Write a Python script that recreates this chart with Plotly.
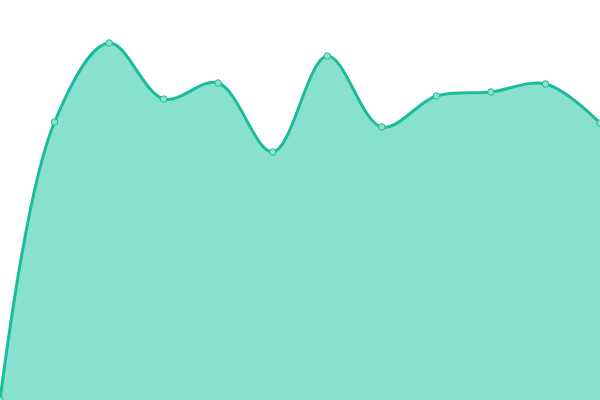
import plotly.graph_objects as go

x_vals = list(range(12))
y_vals = [0, 278, 357, 301, 317, 248, 344, 273, 304, 308, 316, 277]

fig = go.Figure(go.Scatter(
    x=x_vals, y=y_vals,
    mode="lines+markers",
    line=dict(shape="spline", smoothing=1.0, color="#1abc9c", width=3),
    marker=dict(size=6.5, color="#8ee0cf", line=dict(color="#1abc9c", width=1)),
    fill="tozeroy", fillcolor="#88e0cf",
    hoverinfo="skip",
))
fig.update_layout(
    width=600, height=400,
    margin=dict(l=0, r=0, t=0, b=0),
    paper_bgcolor="white", plot_bgcolor="white",
    showlegend=False,
    xaxis=dict(visible=False, range=[0, 11]),
    yaxis=dict(visible=False, range=[0, 400]),
)
fig.write_html(
    "out.html",
    config={"displayModeBar": False},
    post_script="document.body.style.margin='0';document.body.style.padding='0';document.body.style.overflow='hidden';",
)
